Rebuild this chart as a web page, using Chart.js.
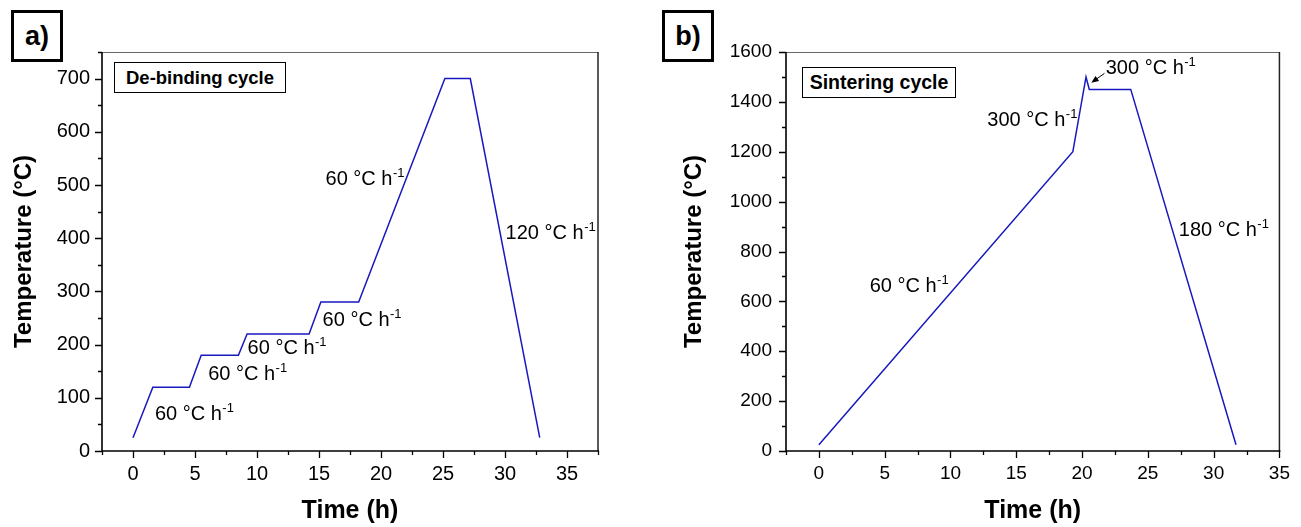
<!DOCTYPE html>
<html>
<head>
<meta charset="utf-8">
<script src="https://cdn.jsdelivr.net/npm/chart.js@4/dist/chart.umd.min.js"></script>
<style>
  body { margin: 0; background: #fff; }
  #wrap { position: relative; width: 1301px; height: 527px; background: #fff; font-family: "Liberation Sans", Arial, sans-serif; }
  #wrap canvas { position: absolute; top: 0; }
  .tag { position: absolute; box-sizing: border-box; border: 3px solid #000; background: #fff;
         font-weight: bold; font-size: 27px; display: flex; align-items: center; justify-content: center; }
  .cyc { position: absolute; box-sizing: border-box; border: 1px solid #000; background: #fff;
         font-weight: bold; display: flex; align-items: center; justify-content: center; white-space: nowrap; }
</style>
</head>
<body>
<div id="wrap">
  <canvas id="chartA" width="650" height="527" style="left:0;width:650px;height:527px"></canvas>
  <canvas id="chartB" width="651" height="527" style="left:650px;width:651px;height:527px"></canvas>
  <div class="tag" style="left:11px;top:10px;width:52px;height:52px">a)</div>
  <div class="tag" style="left:662px;top:10px;width:52px;height:52px">b)</div>
  <div class="cyc" style="left:114px;top:62px;width:172px;height:31px;font-size:18.5px">De-binding cycle</div>
  <div class="cyc" style="left:802px;top:67px;width:154px;height:31px;font-size:19.5px">Sintering cycle</div>
</div>
<script>
// de-binding schedule (time in h, temperature in °C)
var timeA = [0, 1.6, 4.55, 5.5, 8.5, 9.2, 14.2, 15.15, 18.2, 25.15, 27.2, 32.8];
var tempA = [25, 120, 120, 180, 180, 220, 220, 280, 280, 700, 700, 25];

// sintering schedule
var timeB = [0, 19.3, 20.3, 20.55, 23.7, 31.7];
var tempB = [25, 1200, 1500, 1450, 1450, 25];

// heating / cooling rate labels
var ratesA = ['60 °C h', '60 °C h', '60 °C h', '60 °C h', '60 °C h', '120 °C h'];
var ratesB = ['300 °C h', '300 °C h', '180 °C h', '60 °C h'];

// tick labels
var xTicks = [0, 5, 10, 15, 20, 25, 30, 35];
var yTicksA = [0, 100, 200, 300, 400, 500, 600, 700];
var yTicksB = [0, 200, 400, 600, 800, 1000, 1200, 1400, 1600];

var lineColor = '#1818c0';

function toPoints(xs, ys) {
    return xs.map(function(x, i) { return {x: x, y: ys[i]}; });
}

// draws frame, major/minor tick marks, rate labels and arrows
var decorPlugin = {
    id: 'decor',
    afterDraw: function(chart, args, opts) {
        var ctx = chart.ctx;
        var area = chart.chartArea;
        var xs = chart.scales.x, ys = chart.scales.y;
        ctx.save();

        // top and right edges of the frame
        ctx.strokeStyle = '#666';
        ctx.lineWidth = 1;
        ctx.beginPath();
        ctx.moveTo(area.left, area.top + 0.5);
        ctx.lineTo(area.right, area.top + 0.5);
        ctx.stroke();
        ctx.strokeStyle = '#222';
        ctx.lineWidth = 1.5;
        ctx.beginPath();
        ctx.moveTo(area.right, area.top);
        ctx.lineTo(area.right, area.bottom);
        ctx.stroke();

        // axes
        ctx.strokeStyle = '#000';
        ctx.lineWidth = 1.6;
        ctx.beginPath();
        ctx.moveTo(area.left, area.top);
        ctx.lineTo(area.left, area.bottom);
        ctx.lineTo(area.right + 1, area.bottom);
        ctx.stroke();

        // tick marks
        ctx.lineWidth = 1.3;
        ctx.beginPath();
        var v, px, major;
        for (v = xs.min; v <= xs.max + 1e-6; v += opts.xMinor) {
            px = Math.round(xs.getPixelForValue(v)) + 0.5;
            major = Math.abs(v / opts.xMajor - Math.round(v / opts.xMajor)) < 1e-6;
            ctx.moveTo(px, area.bottom);
            ctx.lineTo(px, area.bottom + (major ? 7 : 4));
        }
        for (v = ys.min; v <= ys.max + 1e-6; v += opts.yMinor) {
            px = Math.round(ys.getPixelForValue(v)) + 0.5;
            major = Math.abs(v / opts.yMajor - Math.round(v / opts.yMajor)) < 1e-6;
            ctx.moveTo(area.left, px);
            ctx.lineTo(area.left - (major ? 7 : 4), px);
        }
        ctx.stroke();

        // rate labels with superscript -1
        ctx.fillStyle = '#000';
        ctx.textBaseline = 'alphabetic';
        ctx.textAlign = 'left';
        opts.labels.forEach(function(lb) {
            var lx = xs.getPixelForValue(lb.x);
            var ly = ys.getPixelForValue(lb.y);
            ctx.font = '20px "Liberation Sans", Arial, sans-serif';
            ctx.fillText(lb.text, lx, ly);
            var w = ctx.measureText(lb.text).width;
            ctx.font = '13px "Liberation Sans", Arial, sans-serif';
            ctx.fillText('-1', lx + w + 0.5, ly - 8);
        });

        // arrows
        (opts.arrows || []).forEach(function(ar) {
            var x1 = xs.getPixelForValue(ar.from[0]), y1 = ys.getPixelForValue(ar.from[1]);
            var x2 = xs.getPixelForValue(ar.to[0]), y2 = ys.getPixelForValue(ar.to[1]);
            var ang = Math.atan2(y2 - y1, x2 - x1);
            ctx.strokeStyle = '#000';
            ctx.lineWidth = 1;
            ctx.beginPath();
            ctx.moveTo(x1, y1);
            ctx.lineTo(x2 - 6 * Math.cos(ang), y2 - 6 * Math.sin(ang));
            ctx.stroke();
            ctx.beginPath();
            ctx.moveTo(x2, y2);
            ctx.lineTo(x2 - 8 * Math.cos(ang - 0.4), y2 - 8 * Math.sin(ang - 0.4));
            ctx.lineTo(x2 - 8 * Math.cos(ang + 0.4), y2 - 8 * Math.sin(ang + 0.4));
            ctx.closePath();
            ctx.fill();
        });
        ctx.restore();
    }
};

function plainLabel(v) { return String(v); }

function makeChart(id, pts, cfg) {
    return new Chart(document.getElementById(id), {
        type: 'line',
        data: {
            datasets: [{
                data: pts,
                borderColor: lineColor,
                borderWidth: 1.5,
                pointRadius: 0,
                tension: 0,
                fill: false
            }]
        },
        options: {
            responsive: false,
            animation: false,
            layout: { padding: { top: 52, right: cfg.padRight, bottom: 0, left: 0 } },
            plugins: {
                legend: { display: false },
                tooltip: { enabled: false },
                decor: cfg.decor
            },
            scales: {
                x: {
                    type: 'linear',
                    min: -2.5,
                    max: cfg.xMax,
                    grid: { display: false, drawTicks: false },
                    border: { display: false },
                    afterBuildTicks: function(s) {
                        s.ticks = xTicks.map(function(v) { return {value: v}; });
                    },
                    afterFit: function(s) { s.height = 76; },
                    ticks: {
                        autoSkip: false,
                        maxRotation: 0,
                        padding: 11,
                        color: '#000',
                        callback: plainLabel,
                        font: { family: '"Liberation Sans", Arial, sans-serif', size: cfg.tickSize }
                    },
                    title: {
                        display: true,
                        text: 'Time (h)',
                        color: '#000',
                        padding: { top: 0, bottom: 1 },
                        font: { family: '"Liberation Sans", Arial, sans-serif', size: 25, weight: 'bold' }
                    }
                },
                y: {
                    min: 0,
                    max: cfg.yMax,
                    grid: { display: false, drawTicks: false },
                    border: { display: false },
                    afterBuildTicks: function(s) {
                        s.ticks = cfg.yTicks.map(function(v) { return {value: v}; });
                    },
                    afterFit: function(s) { s.width = cfg.yWidth; },
                    ticks: {
                        autoSkip: false,
                        padding: cfg.yPad,
                        color: '#000',
                        callback: plainLabel,
                        font: { family: '"Liberation Sans", Arial, sans-serif', size: cfg.tickSize }
                    },
                    title: {
                        display: true,
                        text: 'Temperature (°C)',
                        color: '#000',
                        padding: { top: cfg.yTitlePad, bottom: 0 },
                        font: { family: '"Liberation Sans", Arial, sans-serif', size: 24, weight: 'bold' }
                    }
                }
            }
        },
        plugins: [decorPlugin]
    });
}

makeChart('chartA', toPoints(timeA, tempA), {
    padRight: 52, xMax: 37.5, yMax: 750, yTicks: yTicksA, yWidth: 102, yPad: 12,
    yTitlePad: 10, tickSize: 20,
    decor: {
        xMajor: 5, xMinor: 2.5, yMajor: 100, yMinor: 50,
        labels: [
            {text: ratesA[0], x: 1.77, y: 58},
            {text: ratesA[1], x: 6.06, y: 133},
            {text: ratesA[2], x: 9.24, y: 182},
            {text: ratesA[3], x: 15.29, y: 235},
            {text: ratesA[4], x: 15.53, y: 500},
            {text: ratesA[5], x: 30.05, y: 398}
        ]
    }
});

makeChart('chartB', toPoints(timeB, tempB), {
    padRight: 15, xMax: 35, yMax: 1600, yTicks: yTicksB, yWidth: 136, yPad: 14,
    yTitlePad: 30, tickSize: 19,
    decor: {
        xMajor: 5, xMinor: 2.5, yMajor: 200, yMinor: 100,
        labels: [
            {text: ratesB[0], x: 21.8, y: 1510},
            {text: ratesB[1], x: 12.8, y: 1305},
            {text: ratesB[2], x: 27.35, y: 861},
            {text: ratesB[3], x: 3.86, y: 636}
        ],
        arrows: [{from: [21.7, 1514], to: [20.7, 1477]}]
    }
});
</script>
</body>
</html>
